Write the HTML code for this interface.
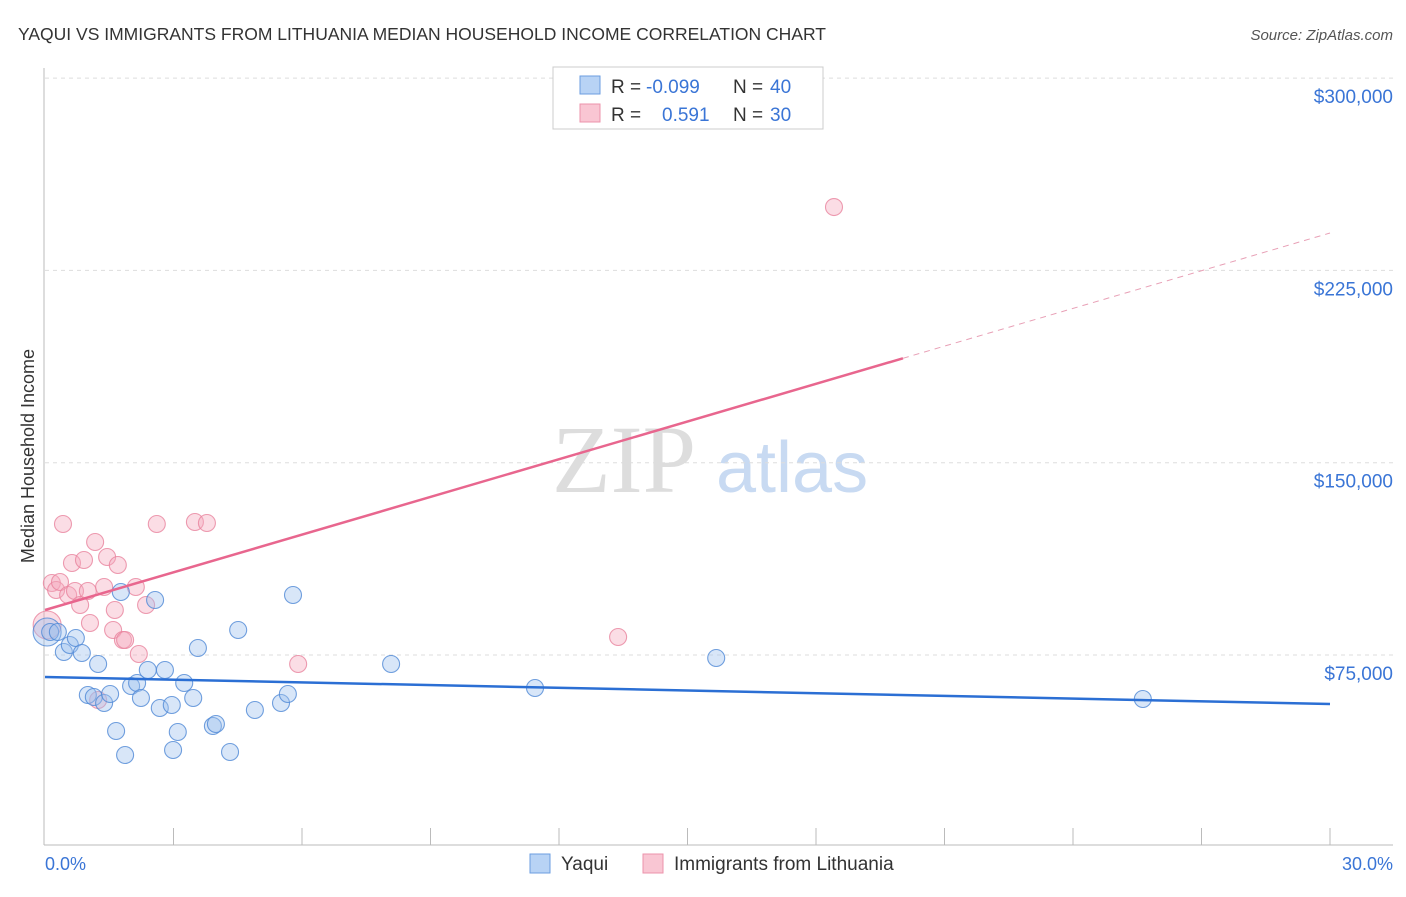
<!DOCTYPE html>
<html><head><meta charset="utf-8"><style>
body{margin:0;background:#fff;font-family:"Liberation Sans",sans-serif}
svg text{font-family:"Liberation Sans",sans-serif}
</style></head><body>
<svg width="1406" height="892" id="c">
<text x="18" y="40" font-size="17.5" fill="#333">YAQUI VS IMMIGRANTS FROM LITHUANIA MEDIAN HOUSEHOLD INCOME CORRELATION CHART</text>
<text x="1393" y="40" font-size="15" fill="#555" text-anchor="end" font-style="italic">Source: ZipAtlas.com</text>
<g>
<text x="552" y="492" font-size="96" fill="#ddd" font-family="Liberation Serif" style="font-family:'Liberation Serif',serif">ZIP</text>
<text x="716" y="492" font-size="72" fill="#c8daf2">atlas</text>
</g>
<g id="grid"></g>
<line x1="44" y1="68" x2="44" y2="845" stroke="#bbb"/>
<line x1="44" y1="845" x2="1393" y2="845" stroke="#bbb"/>
<g id="ticks"></g>
<text x="34" y="456" font-size="18" fill="#333" text-anchor="middle" transform="rotate(-90 34 456)">Median Household Income</text>
<text x="45" y="870" font-size="18" fill="#3a75d6">0.0%</text>
<text x="1393" y="870" font-size="18" fill="#3a75d6" text-anchor="end">30.0%</text>
<g id="pts"></g>
<g id="lines"></g>
<g>
<rect x="553" y="67" width="270" height="62" fill="#fff" stroke="#ccc"/>
<rect x="580" y="76" width="20" height="18" fill="#b8d3f5" stroke="#6b9ee0"/>
<rect x="580" y="104" width="20" height="18" fill="#f9c6d3" stroke="#ec93ab"/>
<text y="93" font-size="19" fill="#333"><tspan x="611">R =</tspan><tspan x="646" fill="#3a75d6">-0.099</tspan><tspan x="733">N =</tspan><tspan x="770" fill="#3a75d6">40</tspan></text>
<text y="121" font-size="19" fill="#333"><tspan x="611">R =</tspan><tspan x="662" fill="#3a75d6">0.591</tspan><tspan x="733">N =</tspan><tspan x="770" fill="#3a75d6">30</tspan></text>
</g>
<g>
<rect x="530" y="854" width="20" height="19" fill="#b8d3f5" stroke="#6b9ee0"/>
<text x="561" y="870" font-size="19" fill="#333">Yaqui</text>
<rect x="643" y="854" width="20" height="19" fill="#f9c6d3" stroke="#ec93ab"/>
<text x="674" y="870" font-size="19" fill="#333">Immigrants from Lithuania</text>
</g>
</svg>
<script>
const yTicks=[75000,150000,225000,300000];
const yTickLabels=["$75,000","$150,000","$225,000","$300,000"];
const blueX=[0.05,0.12,0.30,0.44,0.58,0.72,0.86,1.00,1.14,1.24,1.38,1.52,1.66,1.77,1.87,2.01,2.15,2.24,2.40,2.57,2.68,2.80,2.96,2.99,3.10,3.25,3.46,3.57,3.92,3.99,4.32,4.51,4.90,5.51,5.67,5.79,8.08,11.44,15.67,25.63];
const blueY=[83970,83970,83970,76170,78900,81630,75780,59400,58620,71490,56280,59790,45360,99570,36000,62910,64080,58230,69150,96450,54330,69150,55500,37950,44970,64080,58230,77730,47310,48090,37170,84750,53550,56280,59790,98400,71490,62130,73830,57840];
const pinkX=[0.05,0.16,0.26,0.35,0.42,0.54,0.63,0.70,0.82,0.91,1.00,1.05,1.17,1.24,1.38,1.45,1.59,1.63,1.70,1.82,1.87,2.12,2.19,2.36,2.61,3.50,3.78,5.91,13.38,18.42];
const pinkY=[86700,103080,100350,103470,126090,98400,110880,99960,94500,112050,99960,87480,119070,57450,101520,113220,84750,92550,110100,80850,80850,101520,75390,94500,126090,126870,126480,71490,82020,249720];
const blueTrend=[66420,55890];
const pinkTrend=[92550,239580];
const pinkSolidEnd=20.03;
const X=p=>45+p/30*1285;
const Y=v=>655-(v-75000)*192.3/75000;
const NS="http://www.w3.org/2000/svg";
function mk(t,a,p){const e=document.createElementNS(NS,t);for(const k in a)e.setAttribute(k,a[k]);p.appendChild(e);return e;}
const grid=document.getElementById('grid');
yTicks.forEach((v,i)=>{
 const l=mk('line',{x1:45,x2:1393,y1:Y(v),y2:Y(v),stroke:'#ddd','stroke-dasharray':'4,4'},grid);
 
 
 const t=mk('text',{x:1393,y:Y(v)+25,'font-size':19,fill:'#3a75d6','text-anchor':'end'},grid);
 t.textContent=yTickLabels[i];
 
 
});
const tk=document.getElementById('ticks');
for(let i=1;i<=10;i++){const l=mk('line',{x1:X(i*3),x2:X(i*3),y1:828,y2:845,stroke:'#bbb'},tk);
 
 }
const pts=document.getElementById('pts');
function dots(xs,ys,fill,stroke,name){xs.forEach((x,i)=>{
 const r=i===0?14:8.5;
 const c=mk('circle',{cx:X(x),cy:Y(ys[i]),r:r,fill:fill,'fill-opacity':0.4,stroke:stroke,'stroke-opacity':0.8,'stroke-width':1.1},pts);
 
 });}
dots(pinkX,pinkY,'#f4a9bd','#e8839e','lithuania-point');
dots(blueX,blueY,'#9ec1ee','#4f88d6','yaqui-point');
const lg=document.getElementById('lines');
let l=mk('line',{x1:X(0),y1:Y(blueTrend[0]),x2:X(30),y2:Y(blueTrend[1]),stroke:'#2b6fd4','stroke-width':2.5},lg);


const py=p=>pinkTrend[0]+(pinkTrend[1]-pinkTrend[0])*p/30;
l=mk('line',{x1:X(0),y1:Y(py(0)),x2:X(pinkSolidEnd),y2:Y(py(pinkSolidEnd)),stroke:'#e8668e','stroke-width':2.5},lg);


l=mk('line',{x1:X(pinkSolidEnd),y1:Y(py(pinkSolidEnd)),x2:X(30),y2:Y(py(30)),stroke:'#e8a0b6','stroke-width':1,'stroke-dasharray':'6,5'},lg);


</script>
</body></html>
